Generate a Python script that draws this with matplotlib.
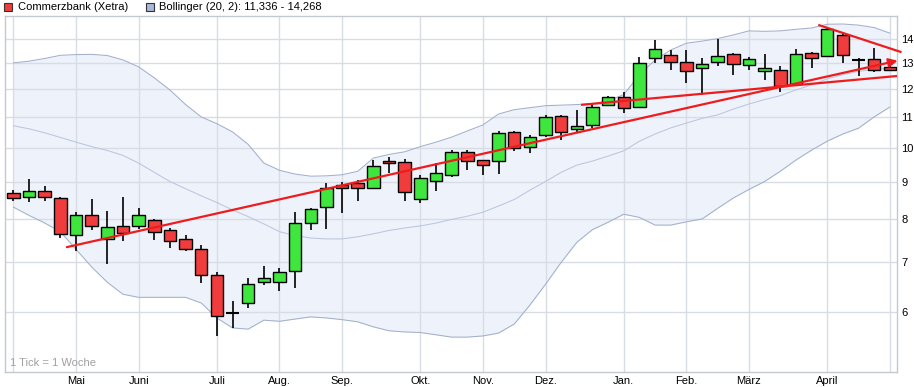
import numpy as np
import matplotlib
matplotlib.use('Agg')
import matplotlib.pyplot as plt
from matplotlib.patches import Rectangle

plt.rcParams['font.family'] = ['Liberation Sans', 'DejaVu Sans']

# weekly candles, week 0 = end of April
opens = [8.68, 8.57, 8.74, 8.55, 7.62, 8.10, 7.53, 7.85, 7.85, 7.99,
         7.74, 7.53, 7.30, 6.73, 5.99, 6.17, 6.59, 6.59, 6.82, 7.92,
         8.31, 8.91, 8.97, 8.83, 9.58, 9.55, 8.52, 9.01, 9.17, 9.87,
         9.61, 9.58, 10.49, 10.02, 10.39, 11.02, 10.59, 10.72, 11.42, 11.72,
         11.35, 13.20, 13.33, 13.03, 12.80, 13.05, 13.37, 12.92, 12.67, 12.73,
         12.18, 13.40, 13.29, 14.18, 13.11, 13.15, 12.85]
highs = [8.76, 9.08, 8.87, 8.59, 8.19, 8.52, 8.21, 8.57, 8.28, 8.02,
         7.78, 7.63, 7.39, 6.79, 6.21, 6.66, 6.92, 6.87, 8.18, 8.28,
         8.97, 8.98, 9.03, 9.62, 9.70, 9.64, 9.18, 9.52, 9.91, 9.93,
         9.62, 10.53, 10.53, 10.41, 11.07, 11.07, 11.25, 11.50, 11.75, 11.90,
         13.24, 13.96, 13.54, 13.54, 13.22, 14.00, 13.40, 13.24, 13.37, 12.89,
         13.57, 13.47, 14.52, 14.32, 13.22, 13.63, 12.89]
lows = [8.46, 8.44, 8.48, 7.56, 7.26, 7.73, 6.96, 7.47, 7.77, 7.51,
        7.33, 7.26, 6.57, 5.57, 5.71, 6.08, 6.52, 6.41, 6.47, 7.75,
        7.77, 8.17, 8.46, 8.83, 9.24, 8.48, 8.41, 8.75, 9.13, 9.32,
        9.19, 9.21, 9.89, 9.83, 10.33, 10.23, 10.51, 10.62, 11.39, 11.14,
        11.33, 13.01, 12.73, 12.21, 11.79, 12.90, 12.52, 12.73, 12.35, 11.87,
        12.16, 12.80, 13.26, 13.01, 12.48, 12.63, 12.70]
closes = [8.55, 8.74, 8.57, 7.64, 8.12, 7.83, 7.82, 7.68, 8.10, 7.69,
          7.48, 7.30, 6.73, 5.93, 5.99, 6.55, 6.67, 6.79, 7.90, 8.26,
          8.83, 8.81, 8.83, 9.44, 9.52, 8.70, 9.11, 9.23, 9.87, 9.58,
          9.46, 10.46, 9.99, 10.32, 10.99, 10.49, 10.69, 11.35, 11.70, 11.32,
          12.99, 13.57, 13.05, 12.67, 12.95, 13.29, 12.95, 13.15, 12.80, 12.09,
          13.36, 13.20, 14.44, 13.33, 13.11, 12.72, 12.72]

# Bollinger (20, 2)
boll_upper = [13.01, 13.08, 13.19, 13.32, 13.35, 13.36, 13.31, 13.13, 12.85, 12.42,
              11.96, 11.43, 11.00, 10.77, 10.50, 10.10, 9.53, 9.32, 9.21, 9.15,
              9.16, 9.19, 9.29, 9.68, 9.79, 9.87, 10.03, 10.17, 10.33, 10.53,
              10.73, 11.10, 11.25, 11.32, 11.39, 11.41, 11.43, 11.46, 11.57, 11.79,
              12.54, 13.13, 13.54, 13.83, 13.92, 14.03, 14.19, 14.37, 14.35, 14.37,
              14.44, 14.50, 14.67, 14.68, 14.63, 14.52, 14.27]
boll_mid = [10.70, 10.60, 10.47, 10.32, 10.17, 10.03, 9.91, 9.76, 9.53, 9.26,
            9.00, 8.80, 8.61, 8.43, 8.24, 8.07, 7.89, 7.70, 7.61, 7.55,
            7.53, 7.53, 7.58, 7.65, 7.73, 7.79, 7.84, 7.91, 8.00, 8.08,
            8.18, 8.34, 8.51, 8.76, 9.00, 9.26, 9.47, 9.59, 9.74, 9.90,
            10.20, 10.43, 10.63, 10.79, 10.95, 11.07, 11.27, 11.45, 11.61, 11.75,
            11.96, 12.15, 12.38, 12.54, 12.67, 12.75, 12.80]
boll_lower = [8.31, 8.10, 7.91, 7.70, 7.29, 6.90, 6.58, 6.34, 6.28, 6.28,
              6.28, 6.28, 6.17, 5.89, 5.71, 5.69, 5.85, 5.83, 5.87, 5.91,
              5.89, 5.86, 5.82, 5.73, 5.66, 5.64, 5.63, 5.59, 5.55, 5.55,
              5.57, 5.62, 5.78, 6.13, 6.54, 7.00, 7.45, 7.75, 7.93, 8.13,
              8.05, 7.86, 7.86, 7.94, 8.01, 8.28, 8.55, 8.78, 9.00, 9.29,
              9.62, 9.92, 10.20, 10.43, 10.62, 11.00, 11.34]

month_labels = ['Mai', 'Juni', 'Juli', 'Aug.', 'Sep.', 'Okt.', 'Nov.', 'Dez.',
                'Jan.', 'Feb.', 'März', 'April']
month_weeks = [4, 8, 13, 17, 21, 26, 30, 34, 39, 43, 47, 52]
y_ticks = [6, 7, 8, 9, 10, 11, 12, 13, 14]

# drawn trend lines (week, price)
trend_long_x = [3.41, 56.5]
trend_long_y = [7.34, 13.10]
trend_flat_x = [36.27, 56.46]
trend_flat_y = [11.42, 12.49]
trend_down_x = [51.43, 56.75]
trend_down_y = [14.64, 13.45]

weeks = np.arange(len(opens))
o = np.array(opens)
c = np.array(closes)

RED = '#f03c3c'
GREEN = '#3ee63e'
BAND_FILL = '#edf2fb'
BAND_LINE = '#a3b0cc'
GRID = '#d8dce4'
TREND = '#ee1c1c'

fig = plt.figure(figsize=(9.14, 3.87), dpi=100)
ax = fig.add_axes([5/914, 1-372/387, 892/914, 356/387])
ax.set_yscale('log')
ax.set_xlim(-0.54, 56.46)
ax.set_ylim(4.98, 15.05)

# bollinger band
ax.fill_between(weeks, boll_lower, boll_upper, color=BAND_FILL, lw=0, zorder=1)
ax.plot(weeks, boll_upper, color=BAND_LINE, lw=0.75, zorder=2)
ax.plot(weeks, boll_lower, color=BAND_LINE, lw=0.75, zorder=2)
ax.plot(weeks, boll_mid, color='#bcc6dc', lw=0.75, zorder=2)

# grid
for v in y_ticks:
    ax.axhline(v, color=GRID, lw=1, zorder=1.5)
for w in month_weeks + [0, len(opens) - 1]:
    ax.axvline(w, color=GRID, lw=1, zorder=1.5)

# candles
ax.vlines(weeks, lows, highs, color='black', lw=1.2, zorder=3)
up = c > o
down = c < o
doji = c == o
ax.bar(weeks[up], c[up] - o[up], bottom=o[up], width=0.8, color=GREEN,
       edgecolor='black', lw=1, zorder=4)
ax.bar(weeks[down], o[down] - c[down], bottom=c[down], width=0.8, color=RED,
       edgecolor='black', lw=1, zorder=4)
ax.hlines(c[doji], weeks[doji] - 0.4, weeks[doji] + 0.4, color='black', lw=1.5, zorder=4)

# trend lines
ax.plot(trend_flat_x, trend_flat_y, color=TREND, lw=1.6, zorder=5, clip_on=False,
        solid_capstyle='butt')
ax.plot(trend_down_x, trend_down_y, color=TREND, lw=1.6, zorder=5, clip_on=False,
        solid_capstyle='butt')
ax.annotate('', xy=(trend_long_x[1], trend_long_y[1]),
            xytext=(trend_long_x[0], trend_long_y[0]),
            arrowprops=dict(arrowstyle='-|>', color=TREND, lw=1.6,
                            mutation_scale=13, shrinkA=0, shrinkB=0),
            zorder=5, annotation_clip=False)

# axes styling
ax.yaxis.tick_right()
ax.set_yticks(y_ticks)
ax.set_yticklabels([str(v) for v in y_ticks])
ax.yaxis.set_minor_locator(matplotlib.ticker.NullLocator())
ax.set_xticks(month_weeks)
ax.set_xticklabels(month_labels)
ax.tick_params(axis='both', length=0, labelsize=8, colors='black')
ax.tick_params(axis='y', pad=3)
ax.tick_params(axis='x', pad=3)
for s in ax.spines.values():
    s.set_color('#c4c8d0')
    s.set_linewidth(1)

ax.text(0.006, 0.012, '1 Tick = 1 Woche', transform=ax.transAxes, fontsize=8,
        color='#a0a0a0', ha='left', va='bottom')

# legend on top
fig.add_artist(Rectangle((4/914, 1-11/387), 8/914, 8/387, transform=fig.transFigure,
                         facecolor=RED, edgecolor='#333333', lw=0.8))
fig.text(18/914, 1-7.5/387, 'Commerzbank (Xetra)', fontsize=8, va='center', ha='left')
fig.add_artist(Rectangle((146/914, 1-11/387), 8/914, 8/387, transform=fig.transFigure,
                         facecolor='#a8b8d8', edgecolor='#333333', lw=0.8))
fig.text(159/914, 1-7.5/387, 'Bollinger (20, 2): 11,336 - 14,268', fontsize=8,
         va='center', ha='left')

fig.savefig('out.png', dpi=100)
